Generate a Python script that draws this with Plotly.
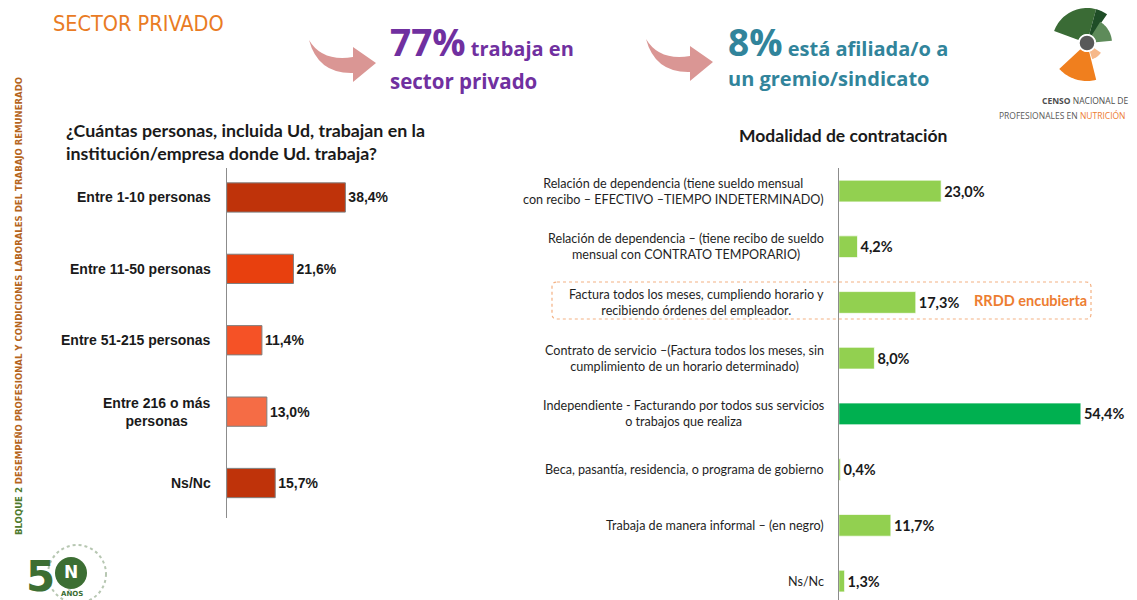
import math
import plotly.graph_objects as go

W, H = 1137, 600
OFF = 8  # page body margin of the browser

# ---------------- data ----------------
size_cats = ["Entre 1-10 personas", "Entre 11-50 personas", "Entre 51-215 personas",
             "Entre 216 o más<br>personas", "Ns/Nc"]
size_vals = [38.4, 21.6, 11.4, 13.0, 15.7]
size_colors = ["#BF330A", "#E8400E", "#F55226", "#F56C45", "#BF330A"]

mod_cats = [
    "Relación de dependencia (tiene sueldo mensual<br>con recibo – EFECTIVO –TIEMPO INDETERMINADO)",
    "Relación de dependencia – (tiene recibo de sueldo<br>mensual con CONTRATO TEMPORARIO)",
    "Factura todos los meses, cumpliendo horario y<br>recibiendo órdenes del empleador.",
    "Contrato de servicio –(Factura todos los meses, sin<br>cumplimiento de un horario determinado)",
    "Independiente - Facturando por todos sus servicios<br>o trabajos que realiza",
    "Beca, pasantía, residencia, o programa de gobierno",
    "Trabaja de manera informal – (en negro)",
    "Ns/Nc",
]
mod_vals = [23.0, 4.2, 17.3, 8.0, 54.4, 0.4, 11.7, 1.3]
mod_colors = ["#92D050", "#92D050", "#92D050", "#92D050", "#00B050", "#92D050", "#92D050", "#92D050"]


def pct(v):
    return f"{v:.1f}".replace(".", ",") + "%"


def px(x):
    return (x - OFF) / W


def py(y):
    return 1 - (y - OFF) / H


fig = go.Figure()

fig.add_trace(go.Bar(
    x=size_vals, y=size_cats, orientation="h", xaxis="x", yaxis="y",
    marker=dict(color=size_colors, line=dict(color="#7F7F7F", width=1)),
    width=0.41, text=[pct(v) for v in size_vals], textposition="outside",
    textfont=dict(family="Liberation Sans", size=14, color="#1A1A1A", weight="bold"),
    cliponaxis=False, constraintext="none", hoverinfo="skip", showlegend=False,
))

fig.add_trace(go.Bar(
    x=mod_vals, y=mod_cats, orientation="h", xaxis="x2", yaxis="y2",
    marker=dict(color=mod_colors, line=dict(color="rgba(255,255,255,0.7)", width=1)),
    width=0.39, text=[pct(v) for v in mod_vals], textposition="outside",
    textfont=dict(family="Lato", size=14.5, color="#1A1A1A", weight="bold"),
    cliponaxis=False, constraintext="none", hoverinfo="skip", showlegend=False,
))

hidden_x = dict(showgrid=False, zeroline=False, showticklabels=False, showline=False, ticks="")

x1_start, x1_scale = 226.7, 3.09
x2_start, x2_scale = 838.8, 4.45

fig.update_layout(
    width=W, height=H,
    margin=dict(l=0, r=0, t=0, b=0),
    paper_bgcolor="white", plot_bgcolor="white",
    xaxis=dict(domain=[px(x1_start), px(x1_start + 50 * x1_scale)], range=[0, 50], anchor="y", **hidden_x),
    yaxis=dict(domain=[py(518), py(168)], range=[4.49, -0.413], type="category", anchor="x",
               showline=True, linecolor="#8C8C8C", linewidth=1, showgrid=False,
               showticklabels=False, ticks=""),
    xaxis2=dict(domain=[px(x2_start), px(x2_start + 64 * x2_scale)], range=[0, 64], anchor="y2", **hidden_x),
    yaxis2=dict(domain=[py(600), py(168)], range=[7.34, -0.413], type="category", anchor="x2",
                showline=True, linecolor="#8C8C8C", linewidth=1, showgrid=False,
                showticklabels=False, ticks=""),
)

ann = []
# category labels, left chart
for i, c in enumerate(size_cats):
    ann.append(dict(x=px(213), xref="paper", y=i, yref="y", text=c, showarrow=False,
                    xanchor="right", yanchor="middle", align="center",
                    font=dict(family="Liberation Sans", size=14, color="#1A1A1A", weight="bold")))
# category labels, right chart
for i, c in enumerate(mod_cats):
    ann.append(dict(x=px(826), xref="paper", y=i, yref="y2", text=c, showarrow=False,
                    xanchor="right", yanchor="middle", align="center",
                    font=dict(family="Lato", size=12.6, color="#1F1F1F")))

# titles
ann.append(dict(x=px(64), y=py(141), xref="paper", yref="paper", xanchor="left", yanchor="middle",
                align="left", showarrow=False,
                text="¿Cuántas personas, incluida Ud, trabajan en la<br>institución/empresa donde Ud. trabaja?",
                font=dict(family="Lato", size=17.8, color="#1A1A1A", weight="bold")))
ann.append(dict(x=px(843), y=py(135), xref="paper", yref="paper", xanchor="center", yanchor="middle",
                showarrow=False, text="Modalidad de contratación",
                font=dict(family="Lato", size=17.5, color="#1A1A1A", weight="bold")))
ann.append(dict(x=px(1030), y=py(300), xref="paper", yref="paper", xanchor="center", yanchor="middle",
                showarrow=False, text="RRDD encubierta",
                font=dict(family="Lato", size=14.5, color="#ED7D31", weight="bold")))

# header
ann.append(dict(x=px(51), y=py(23), xref="paper", yref="paper", xanchor="left", yanchor="middle",
                showarrow=False, text="SECTOR PRIVADO",
                font=dict(family="DejaVu Sans Condensed", size=21.5, color="#E97B24")))
ann.append(dict(x=px(388), y=py(42), xref="paper", yref="paper", xanchor="left", yanchor="middle",
                showarrow=False,
                text="<span style='font-size:37px'>77%</span> trabaja en",
                font=dict(family="Open Sans", size=20, color="#7030A0", weight="bold")))
ann.append(dict(x=px(388), y=py(81), xref="paper", yref="paper", xanchor="left", yanchor="middle",
                showarrow=False, text="sector privado",
                font=dict(family="Open Sans", size=20.5, color="#7030A0", weight="bold")))
ann.append(dict(x=px(726), y=py(42), xref="paper", yref="paper", xanchor="left", yanchor="middle",
                showarrow=False,
                text="<span style='font-size:37px'>8%</span> está afiliada/o a",
                font=dict(family="Open Sans", size=20, color="#31849B", weight="bold")))
ann.append(dict(x=px(726), y=py(79), xref="paper", yref="paper", xanchor="left", yanchor="middle",
                showarrow=False, text="un gremio/sindicato",
                font=dict(family="Open Sans", size=20, color="#31849B", weight="bold")))

# census logo text
ann.append(dict(x=px(1040), y=py(100), xref="paper", yref="paper", xanchor="left", yanchor="middle",
                showarrow=False,
                text="<b>CENSO</b> NACIONAL DE",
                font=dict(family="Open Sans", size=8.5, color="#4D4D4D")))
ann.append(dict(x=px(997), y=py(116), xref="paper", yref="paper", xanchor="left", yanchor="middle",
                showarrow=False,
                text="PROFESIONALES EN <span style='color:#ED7D31'>NUTRICIÓN</span>",
                font=dict(family="Open Sans", size=8.5, color="#595959")))

# vertical side text
ann.append(dict(x=px(19), y=py(306), xref="paper", yref="paper", xanchor="center", yanchor="middle",
                showarrow=False, textangle=-90,
                text="<span style='color:#4E7A2E'>BLOQUE 2</span> DESEMPEÑO PROFESIONAL Y CONDICIONES LABORALES DEL TRABAJO REMUNERADO",
                font=dict(family="DejaVu Sans Condensed", size=9.5, color="#B5651D", weight="bold")))

# 50 años logo text
ann.append(dict(x=px(40), y=py(576), xref="paper", yref="paper", xanchor="center", yanchor="middle",
                showarrow=False, text="5",
                font=dict(family="DejaVu Sans", size=42, color="#3C6E33", weight="bold")))
ann.append(dict(x=px(71), y=py(572), xref="paper", yref="paper", xanchor="center", yanchor="middle",
                showarrow=False, text="N",
                font=dict(family="DejaVu Sans", size=17, color="white", weight="bold")))
ann.append(dict(x=px(72), y=py(593), xref="paper", yref="paper", xanchor="center", yanchor="middle",
                showarrow=False, text="AÑOS",
                font=dict(family="DejaVu Sans", size=7, color="#3C6E33", weight="bold")))

fig.update_layout(annotations=ann)

shapes = []


def ppath(points):
    return "M " + " L ".join(f"{px(x):.5f},{py(y):.5f}" for x, y in points) + " Z"


def arrow(dx, dy):
    return (f"M {px(309+dx):.5f},{py(40+dy):.5f} "
            f"Q {px(322+dx):.5f},{py(62+dy):.5f} {px(353+dx):.5f},{py(57+dy):.5f} "
            f"L {px(353+dx):.5f},{py(47+dy):.5f} L {px(376+dx):.5f},{py(63+dy):.5f} "
            f"L {px(353+dx):.5f},{py(82+dy):.5f} L {px(353+dx):.5f},{py(73+dy):.5f} "
            f"Q {px(318+dx):.5f},{py(74+dy):.5f} {px(309+dx):.5f},{py(40+dy):.5f} Z")


for dx, dy in [(0, 0), (337, -1)]:
    shapes.append(dict(type="path", xref="paper", yref="paper", path=arrow(dx, dy),
                       fillcolor="#DA9694", line=dict(width=0)))


def sector(cx, cy, r0, r1, a0, a1, n=24):
    pts = []
    for k in range(n + 1):
        a = math.radians(a0 + (a1 - a0) * k / n)
        pts.append((cx + r1 * math.cos(a), cy - r1 * math.sin(a)))
    for k in range(n + 1):
        a = math.radians(a1 + (a0 - a1) * k / n)
        pts.append((cx + r0 * math.cos(a), cy - r0 * math.sin(a)))
    return ppath(pts)


cx, cy = 1087, 43
for r0, r1, a0, a1, col in [
    (9, 35, 75, 160, "#3A6B35"),
    (9, 35, 55, 75, "#1F4D27"),
    (9, 25, 5, 58, "#5E8B5A"),
    (9, 38, -137, -76, "#F07F1E"),
    (9, 17, -72, -35, "#F6B88A"),
]:
    shapes.append(dict(type="path", xref="paper", yref="paper", path=sector(cx, cy, r0, r1, a0, a1),
                       fillcolor=col, line=dict(width=0)))
shapes.append(dict(type="circle", xref="paper", yref="paper",
                   x0=px(cx - 9), x1=px(cx + 9), y0=py(cy + 9), y1=py(cy - 9),
                   fillcolor="white", line=dict(width=0)))
shapes.append(dict(type="circle", xref="paper", yref="paper",
                   x0=px(cx - 7.3), x1=px(cx + 7.3), y0=py(cy + 7.3), y1=py(cy - 7.3),
                   fillcolor="#595959", line=dict(width=0)))

# 50 años circle and outer ring
shapes.append(dict(type="circle", xref="paper", yref="paper", layer="below",
                   x0=px(55), x1=px(87), y0=py(589), y1=py(557),
                   fillcolor="#3C6E33", line=dict(width=0)))
shapes.append(dict(type="circle", xref="paper", yref="paper", layer="below",
                   x0=px(48), x1=px(106), y0=py(603), y1=py(545),
                   fillcolor="rgba(0,0,0,0)", line=dict(color="#B7C7B2", width=2, dash="dot")))

# dotted rounded highlight box
bx0, bx1, by0, by1, r = 552, 1091, 282, 319, 5
hl = (f"M {px(bx0+r):.5f},{py(by0):.5f} L {px(bx1-r):.5f},{py(by0):.5f} "
      f"Q {px(bx1):.5f},{py(by0):.5f} {px(bx1):.5f},{py(by0+r):.5f} "
      f"L {px(bx1):.5f},{py(by1-r):.5f} Q {px(bx1):.5f},{py(by1):.5f} {px(bx1-r):.5f},{py(by1):.5f} "
      f"L {px(bx0+r):.5f},{py(by1):.5f} Q {px(bx0):.5f},{py(by1):.5f} {px(bx0):.5f},{py(by1-r):.5f} "
      f"L {px(bx0):.5f},{py(by0+r):.5f} Q {px(bx0):.5f},{py(by0):.5f} {px(bx0+r):.5f},{py(by0):.5f} Z")
shapes.append(dict(type="path", xref="paper", yref="paper", path=hl,
                   line=dict(color="#F4B183", width=1.2, dash="dot"), fillcolor="rgba(0,0,0,0)"))

fig.update_layout(shapes=shapes)

fig.write_html("out.html")
